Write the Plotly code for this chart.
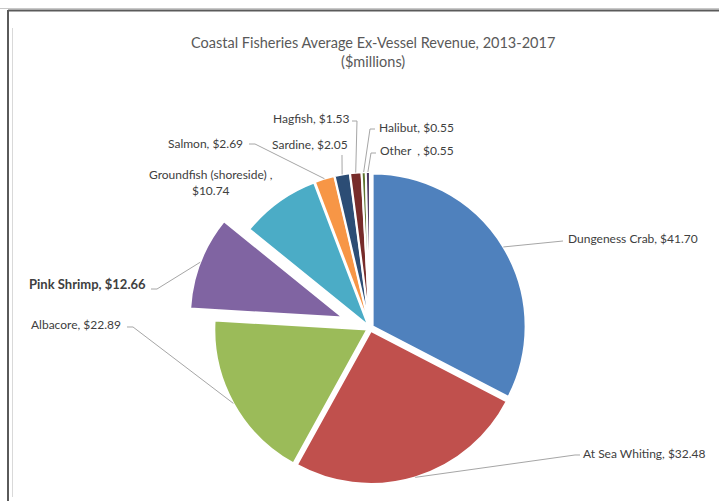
import math
import plotly.graph_objects as go

# ---- data -------------------------------------------------------------
categories = ["Dungeness Crab", "At Sea Whiting", "Albacore", "Pink Shrimp",
              "Groundfish (shoreside)", "Salmon", "Sardine", "Hagfish",
              "Halibut", "Other"]
revenue = [41.70, 32.48, 22.89, 12.66, 10.74, 2.69, 2.05, 1.53, 0.55, 0.55]
colors = ["#4F81BD", "#C0504D", "#9BBB59", "#8064A2", "#4BACC6",
          "#F79646", "#2C4D75", "#772C2A", "#5F7530", "#4D3B62"]
highlight = "Pink Shrimp"

title_lines = ["Coastal Fisheries Average Ex-Vessel Revenue, 2013-2017", "($millions)"]

# ---- geometry (pixels) -----------------------------------------------
W, H = 719, 501
CX, CY = 370, 328          # pie centre
R = 153                    # pie radius
EXPLODE = 0.02             # small gap for every slice
PULL_HL = 0.19             # highlighted slice offset


def px(x):
    return x / W


def py(y):
    return 1 - y / H


total = sum(revenue)
cum = 0.0
mid_angle = []
for v in revenue:
    mid_angle.append(2 * math.pi * (cum + v / 2) / total)
    cum += v
hl = categories.index(highlight)


def on_arc(i):
    """Point on the outer arc at the middle of slice i (pixel coords)."""
    th = mid_angle[i]
    d = R * (1 + (PULL_HL if i == hl else EXPLODE))
    return CX + d * math.sin(th), CY - d * math.cos(th)


# label text built from the data
label_text = []
for c, v in zip(categories, revenue):
    if c.startswith("Groundfish"):
        t = f"{c} ,<br>${v:.2f}"
    elif c == "Other":
        t = f"{c}  , ${v:.2f}"
    else:
        t = f"{c}, ${v:.2f}"
    if c == highlight:
        t = f"<b>{t}</b>"
    label_text.append(t)

# label anchor positions and leader-line bends (pixels)
label_pos = [(566, 239, "left"), (581, 453, "left"), (123, 324, "right"),
             (148, 284, "right"), (211, 182, "center"), (245, 143, "right"),
             (310, 144, "center"), (351, 118, "right"), (377, 127, "left"),
             (378, 151, "left")]
leader_bends = [[(563, 241)], [(575, 455), (580, 455)], [(133, 327), (127, 327)],
                [(157, 289), (151, 289)], None, [(255, 144), (249, 144)],
                [(342, 155)], [(357, 121), (352, 121)], [(370, 129), (375, 129)],
                [(371, 153), (376, 153)]]

fig = go.Figure()

# main pie: every slice except the highlighted one
half = R * (1 + EXPLODE)
fig.add_trace(go.Pie(
    labels=categories, values=revenue, sort=False, direction="clockwise",
    rotation=0, textinfo="none", hoverinfo="label+value", showlegend=False,
    pull=[0 if i == hl else EXPLODE for i in range(len(revenue))],
    marker=dict(colors=["rgba(0,0,0,0)" if i == hl else c for i, c in enumerate(colors)],
                line=dict(color="white",
                          width=[0 if i == hl else 2 for i in range(len(revenue))])),
    domain=dict(x=[px(CX - half), px(CX + half)], y=[py(CY + half), py(CY - half)]),
))

# highlighted slice, offset along its bisector
off = R * PULL_HL
hx = CX + off * math.sin(mid_angle[hl])
hy = CY - off * math.cos(mid_angle[hl])
fig.add_trace(go.Pie(
    labels=categories, values=revenue, sort=False, direction="clockwise",
    rotation=0, textinfo="none", hoverinfo="label+value", showlegend=False,
    marker=dict(colors=[c if i == hl else "rgba(0,0,0,0)" for i, c in enumerate(colors)],
                line=dict(color="white",
                          width=[2 if i == hl else 0 for i in range(len(revenue))])),
    domain=dict(x=[px(hx - R), px(hx + R)], y=[py(hy + R), py(hy - R)]),
))

annotations = []
shapes = []
for i, txt in enumerate(label_text):
    x, y, anc = label_pos[i]
    size = 13 if i == hl else 12
    annotations.append(dict(x=px(x), y=py(y), xref="paper", yref="paper",
                            text=txt, showarrow=False, xanchor=anc, yanchor="middle",
                            font=dict(family="Lato, Carlito, sans-serif", size=size,
                                      color="#404040"),
                            align="center"))
    if leader_bends[i]:
        pts = [on_arc(i)] + leader_bends[i]
        path = "M " + " L ".join(f"{px(a):.5f},{py(b):.5f}" for a, b in pts)
        shapes.append(dict(type="path", path=path, xref="paper", yref="paper",
                           line=dict(color="#A6A6A6", width=1)))

# chart title
annotations.append(dict(x=px(373), y=py(52), xref="paper", yref="paper",
                        text="<br>".join(title_lines), showarrow=False,
                        xanchor="center", yanchor="middle",
                        font=dict(family="Lato, Carlito, sans-serif", size=14.5,
                                  color="#595959")))

# chart-area frame
shapes += [
    dict(type="line", xref="paper", yref="paper", x0=px(0), x1=px(W),
         y0=py(8.5), y1=py(8.5), line=dict(color="#C8C8C8", width=1)),
    dict(type="line", xref="paper", yref="paper", x0=px(8), x1=px(W),
         y0=py(10.5), y1=py(10.5), line=dict(color="#5A5A5A", width=2)),
    dict(type="line", xref="paper", yref="paper", x0=px(8), x1=px(8),
         y0=py(10), y1=py(H), line=dict(color="#5A5A5A", width=2)),
    dict(type="line", xref="paper", yref="paper", x0=px(12.5), x1=px(12.5),
         y0=py(28), y1=py(497), line=dict(color="#D9D9D9", width=1)),
]

fig.update_layout(
    width=W, height=H, margin=dict(l=0, r=0, t=0, b=0),
    paper_bgcolor="white", plot_bgcolor="white",
    annotations=annotations, shapes=shapes,
)

fig.write_html("out.html")
